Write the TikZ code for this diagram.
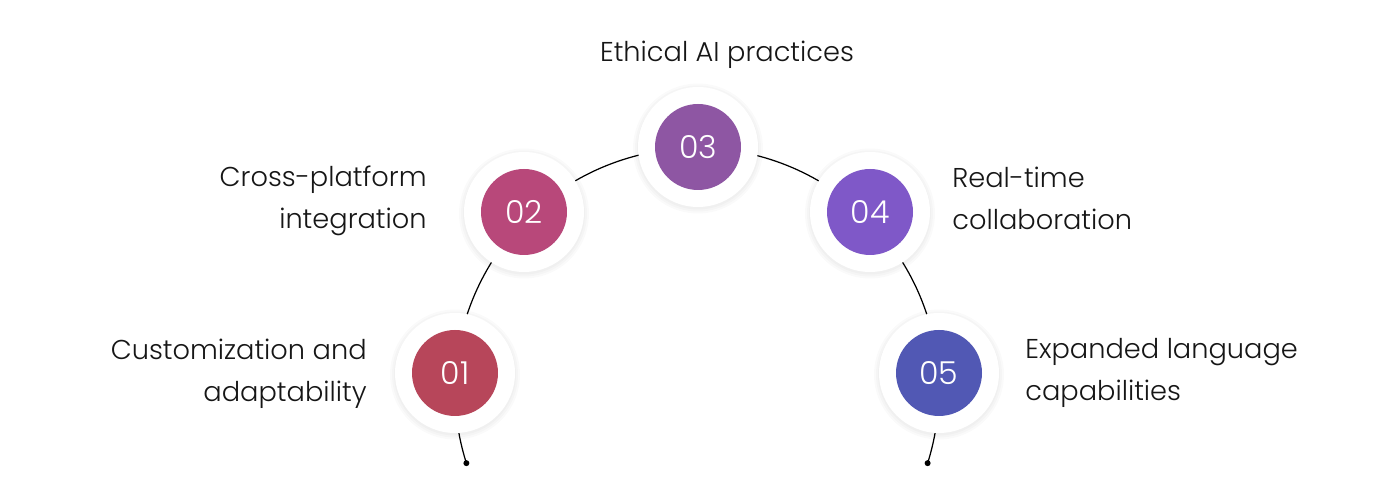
\documentclass[tikz,border=0pt]{standalone}
\usepackage{fontspec}
\setmainfont{Poppins}[UprightFont={* Light}]
\usetikzlibrary{calc}

\definecolor{stepA}{HTML}{B7465A}
\definecolor{stepB}{HTML}{B8487A}
\definecolor{stepC}{HTML}{8E56A3}
\definecolor{stepD}{HTML}{7F58C8}
\definecolor{stepE}{HTML}{5158B4}
\definecolor{ink}{HTML}{161616}

\tikzset{
    halo/.style={circle, fill=white, minimum size=2.4cm, inner sep=0pt},
    badge/.style={circle, minimum size=1.72cm, inner sep=0pt, text=white,
        font=\fontsize{18}{18}\selectfont},
    itemtext/.style={text=ink, inner sep=0pt, font=\fontsize{15.5}{24.4}\selectfont},
    enddot/.style={circle, fill=black, minimum size=0.12cm, inner sep=0pt}
}

\begin{document}
\begin{tikzpicture}[x=0.02cm, y=0.02cm]
\useasboundingbox (0,0) rectangle (1400,492);

\coordinate (c) at (697,102);
\coordinate (endL) at ($(c)+(197.6:4.84cm)$);
\coordinate (endR) at ($(c)+(-17.6:4.84cm)$);

\draw[line width=0.7pt] (endL) arc[start angle=197.6, end angle=-17.6, radius=4.84cm];
\node[enddot] (dotL) at (endL) {};
\node[enddot] (dotR) at (endR) {};

\foreach \x/\y/\col/\num in {455/119/stepA/01, 524/280/stepB/02, 698/345/stepC/03,
                             870/280/stepD/04, 939/119/stepE/05} {
    \foreach \r in {1.22,1.26,1.30}
        \fill[black, opacity=0.02] (\x,\y-1.5) circle (\r cm);
    \node[halo] (h\num) at (\x,\y) {};
    \node[badge, fill=\col] (n\num) at (h\num) {\num};
}

% the base anchor of a two-line label sits on its last line
\node[itemtext, anchor=base] (t03) at (727,430) {Ethical AI practices};
\node[itemtext, align=right, anchor=base east] (t02) at (427,263) {Cross-platform\\integration};
\node[itemtext, align=right, anchor=base east] (t01) at (367,90) {Customization and\\adaptability};
\node[itemtext, align=left, anchor=base west] (t04) at (952,262) {Real-time\\collaboration};
\node[itemtext, align=left, anchor=base west] (t05) at (1025,91) {Expanded language\\capabilities};
\end{tikzpicture}
\end{document}
